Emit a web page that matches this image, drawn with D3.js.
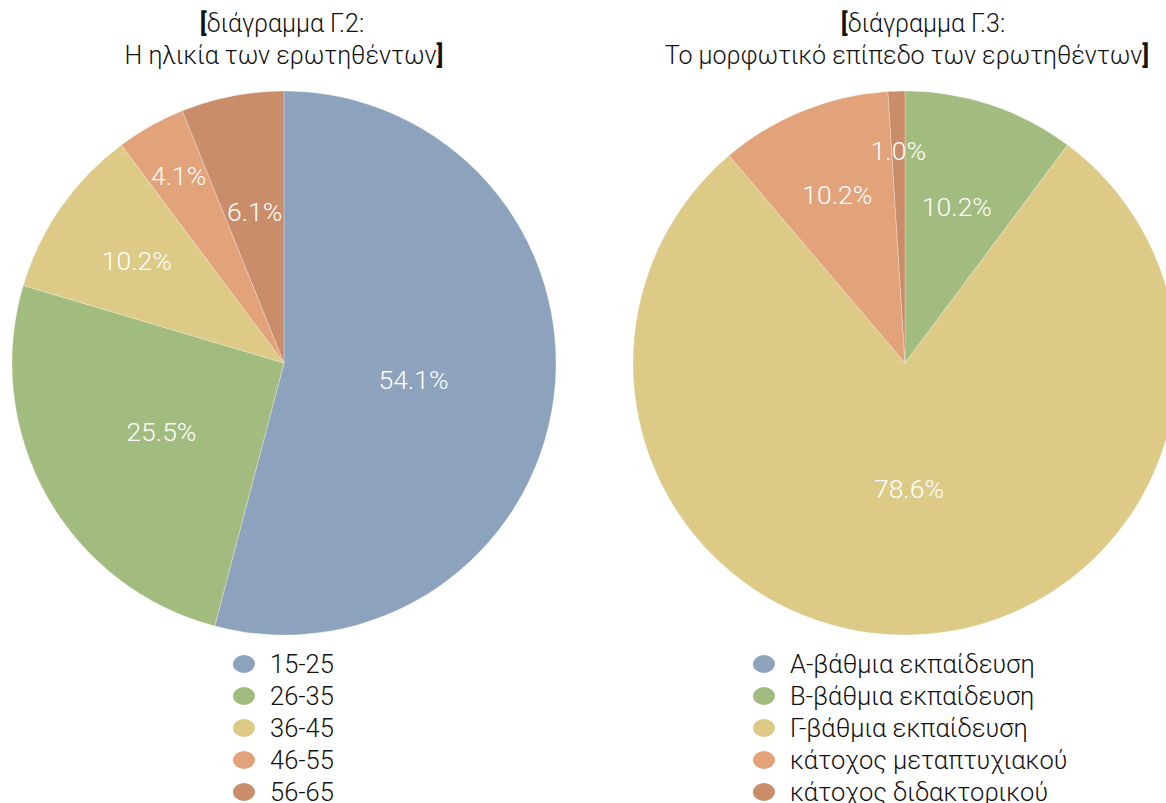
<!DOCTYPE html>
<html>
<head>
<meta charset="utf-8">
<script src="https://cdn.jsdelivr.net/npm/d3@7"></script>
<style>
  html, body { margin: 0; padding: 0; background: #fff; }
  svg { display: block; }
  text { font-family: "Roboto", "Liberation Sans", sans-serif; font-weight: 300; }
</style>
</head>
<body>
<svg id="chart" width="1166" height="803"></svg>
<script>
// Age groups of respondents (percent)
const ageCategories = ["15-25", "26-35", "36-45", "46-55", "56-65"];
const ageShares = [54.1, 25.5, 10.2, 4.1, 6.1];

// Education level of respondents (percent)
const eduCategories = ["Α-βάθμια εκπαίδευση", "Β-βάθμια εκπαίδευση", "Γ-βάθμια εκπαίδευση", "κάτοχος μεταπτυχιακού", "κάτοχος διδακτορικού"];
const eduShares = [0, 10.2, 78.6, 10.2, 1.0];

const sliceColors = ["#8da2bc", "#a2bb7e", "#dcca86", "#e3a37a", "#c98d69"];

const svg = d3.select("#chart");
const R = 272;

function drawPie(cfg) {
  const data = cfg.categories.map((c, i) => ({ name: c, value: cfg.values[i], i }));
  const color = d3.scaleOrdinal().domain(cfg.categories).range(sliceColors);
  const pie = d3.pie().value(d => d.value).sort(null);
  const arcs = pie(data);
  const arc = d3.arc().innerRadius(0).outerRadius(R);

  const g = svg.append("g").attr("transform", `translate(${cfg.cx},${cfg.cy})`);
  g.selectAll("path.slice")
    .data(arcs.filter(a => a.data.value > 0))
    .join("path")
    .attr("class", "slice")
    .attr("d", arc)
    .attr("fill", a => color(a.data.name))
    .attr("stroke", "rgba(255,255,255,0.45)")
    .attr("stroke-width", 0.6);

  // value labels placed along each slice's mid-angle
  g.selectAll("text.value")
    .data(arcs.filter(a => a.data.value > 0))
    .join("text")
    .attr("class", "value")
    .attr("transform", a => {
      const k = cfg.labelDist[a.data.i] * R;
      const c = d3.arc().innerRadius(k).outerRadius(k).centroid(a);
      return `translate(${c[0]},${c[1]})`;
    })
    .attr("text-anchor", "middle")
    .attr("dominant-baseline", "central")
    .attr("fill", "#fff")
    .style("font-size", "26.5px")
    .text(a => a.data.value.toFixed(1) + "%");

  // title
  const t = svg.append("g");
  const l1 = t.append("text")
    .attr("x", cfg.titleX[0]).attr("y", 32)
    .attr("text-anchor", "middle")
    .style("font-size", "25px").attr("fill", "#111");
  l1.append("tspan").style("font-weight", 700).text("[");
  l1.append("tspan").text(cfg.title[0]);
  const l2 = t.append("text")
    .attr("x", cfg.titleX[1]).attr("y", 64)
    .attr("text-anchor", "middle")
    .style("font-size", "25px").attr("fill", "#111");
  l2.append("tspan").text(cfg.title[1]);
  l2.append("tspan").style("font-weight", 700).text("]");

  // legend
  const y = d3.scalePoint().domain(cfg.categories).range([664, 792]);
  const lg = svg.append("g");
  const rows = lg.selectAll("g").data(cfg.categories).join("g")
    .attr("transform", d => `translate(${cfg.legendX},${y(d)})`);
  rows.append("ellipse").attr("rx", 11).attr("ry", 9).attr("fill", d => color(d));
  rows.append("text")
    .attr("x", 26).attr("y", 0)
    .attr("dominant-baseline", "central")
    .style("font-size", "25.5px").attr("fill", "#111")
    .text(d => d);
}

drawPie({
  categories: ageCategories,
  values: ageShares,
  cx: 284, cy: 363,
  labelDist: [0.48, 0.517, 0.66, 0.79, 0.567],
  title: ["διάγραμμα Γ.2:", "Η ηλικία των ερωτηθέντων"],
  titleX: [282, 284],
  legendX: 244
});

drawPie({
  categories: eduCategories,
  values: eduShares,
  cx: 905, cy: 363,
  labelDist: [0.5, 0.606, 0.463, 0.666, 0.783],
  title: ["διάγραμμα Γ.3:", "Το μορφωτικό επίπεδο των ερωτηθέντων"],
  titleX: [923, 907],
  legendX: 764
});
</script>
</body>
</html>
